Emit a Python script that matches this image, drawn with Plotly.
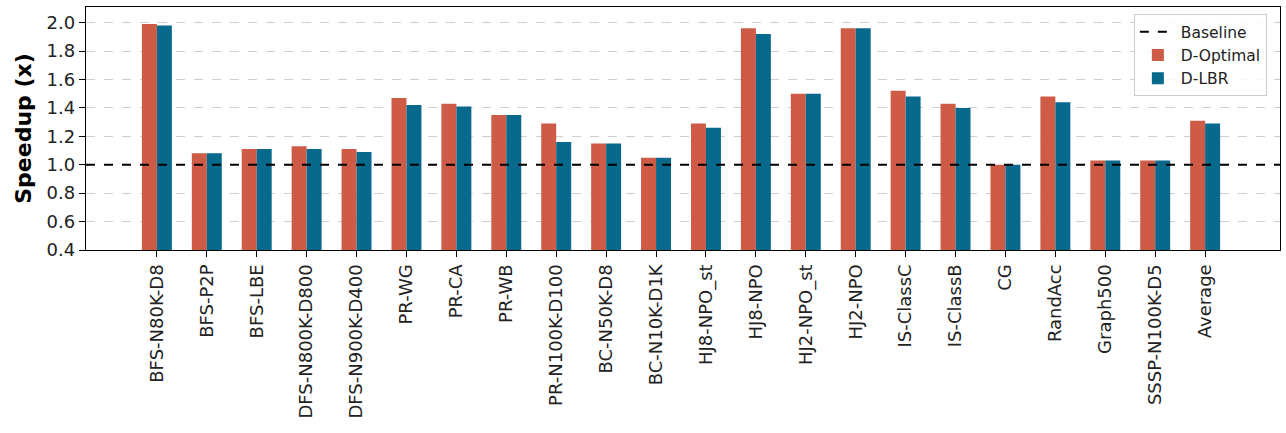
import plotly.graph_objects as go

categories = ["BFS-N80K-D8", "BFS-P2P", "BFS-LBE", "DFS-N800K-D800", "DFS-N900K-D400",
              "PR-WG", "PR-CA", "PR-WB", "PR-N100K-D100", "BC-N50K-D8", "BC-N10K-D1K",
              "HJ8-NPO_st", "HJ8-NPO", "HJ2-NPO_st", "HJ2-NPO", "IS-ClassC", "IS-ClassB",
              "CG", "RandAcc", "Graph500", "SSSP-N100K-D5", "Average"]
d_optimal = [1.99, 1.08, 1.11, 1.13, 1.11, 1.47, 1.43, 1.35, 1.29, 1.15, 1.05,
             1.29, 1.96, 1.50, 1.96, 1.52, 1.43, 1.00, 1.48, 1.03, 1.03, 1.31]
d_lbr = [1.98, 1.08, 1.11, 1.11, 1.09, 1.42, 1.41, 1.35, 1.16, 1.15, 1.05,
         1.26, 1.92, 1.50, 1.96, 1.48, 1.40, 1.00, 1.44, 1.03, 1.03, 1.29]
baseline = 1.0
y_ticks = [0.4, 0.6, 0.8, 1.0, 1.2, 1.4, 1.6, 1.8, 2.0]

RED = "#cd5b46"
BLUE = "#07698b"
FONT = "DejaVu Sans"

x = list(range(len(categories)))

fig = go.Figure()
fig.add_trace(go.Scatter(x=[None], y=[None], mode="lines", name="Baseline",
                         line=dict(color="black", width=2, dash="dash")))
fig.add_trace(go.Bar(x=x, y=d_optimal, name="D-Optimal", marker=dict(color=RED, line=dict(width=0))))
fig.add_trace(go.Bar(x=x, y=d_lbr, name="D-LBR", marker=dict(color=BLUE, line=dict(width=0))))

fig.add_shape(type="line", xref="paper", x0=0, x1=1, yref="y", y0=baseline, y1=baseline,
              line=dict(color="black", width=2, dash="dash"), layer="above")

fig.update_layout(
    width=1286, height=433,
    margin=dict(l=86, r=6, t=7, b=183),
    paper_bgcolor="white", plot_bgcolor="white",
    font=dict(family=FONT, size=18, color="#222"),
    barmode="group", bargap=0.4, bargroupgap=0,
    showlegend=True,
    legend=dict(x=0.989, y=0.97, xanchor="right", yanchor="top",
                bgcolor="rgba(255,255,255,0.85)", bordercolor="#cccccc", borderwidth=1,
                font=dict(size=15.5, family=FONT, color="#222"), traceorder="normal",
                itemwidth=36, tracegroupgap=0),
)
fig.update_xaxes(
    range=[-1.42, 22.5],
    tickmode="array", tickvals=x, ticktext=categories, tickangle=-90,
    ticks="outside", ticklen=6, tickcolor="black", tickwidth=1.3,
    showline=True, linecolor="black", linewidth=1.3, mirror=True,
    showgrid=False, zeroline=False, tickfont=dict(size=18, family=FONT, color="#222"),
)
fig.update_yaxes(
    range=[0.4, 2.11], tickmode="array", tickvals=y_ticks,
    ticktext=[f"{v:.1f}" for v in y_ticks],
    ticks="outside", ticklen=6, tickcolor="black", tickwidth=1.3,
    showline=True, linecolor="black", linewidth=1.3, mirror=True,
    showgrid=True, gridcolor="#cfcfcf", gridwidth=0.8, griddash="dash",
    zeroline=False, tickfont=dict(size=18, family=FONT, color="#222"),
    title=dict(text="<b>Speedup (x)</b>", font=dict(size=22, family=FONT, color="black"), standoff=8),
)

fig.write_html("out.html")
